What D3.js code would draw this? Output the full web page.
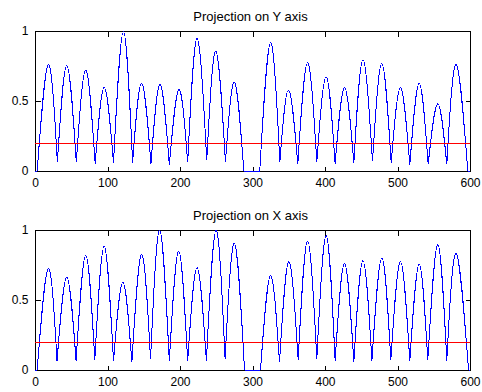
<!DOCTYPE html>
<html>
<head>
<meta charset="utf-8">
<script src="https://cdn.jsdelivr.net/npm/d3@7"></script>
<style>
  body { margin: 0; background: #fff; }
  svg { display: block; }
  text { font-family: "Liberation Sans", Arial, sans-serif; fill: #000; }
</style>
</head>
<body>
<div id="chart"></div>
<script>
// projection on Y axis: turning points (zeros, dips and peaks)
const yProjX = [0, 3, 18.4, 30.9, 43.8, 57, 70, 83, 95.4, 108.3, 122, 134.6, 147, 160, 172.4, 185.3,
  198.6, 210.6, 223.5, 236.9, 249.3, 262.7, 275, 288, 310, 324.8, 337.7, 349.7, 362.5, 375.9, 388.7,
  401.6, 414, 426.9, 439.8, 452.3, 465.5, 478.4, 491.3, 504.1, 517, 529.9, 542.3, 555.6, 568, 580.9, 597, 600];
const yProjV = [0, 0, 0.76, 0.064, 0.754, 0.064, 0.72, 0.052, 0.597, 0.06, 0.995, 0.06, 0.628, 0.052, 0.618, 0.045,
  0.582, 0.062, 0.947, 0.076, 0.857, 0.064, 0.635, 0, 0, 0.916, 0.064, 0.578, 0.052, 0.773, 0.064,
  0.673, 0.052, 0.594, 0.06, 0.795, 0.069, 0.768, 0.057, 0.594, 0.045, 0.625, 0.048, 0.48, 0.048, 0.76, 0, 0];

// projection on X axis
const xProjX = [0, 3, 18.4, 30.4, 43.8, 56.7, 70, 82.5, 95.4, 108.3, 121.2, 133.6, 147, 159.4, 171.9, 185.3,
  198.2, 210.6, 223.5, 236.4, 249.8, 262.2, 275.1, 289, 311, 324.8, 337.2, 350.1, 363, 375.9, 388.7,
  401.6, 414, 426.9, 439.8, 452.3, 464.7, 478.4, 490.8, 504.1, 517, 529.9, 541.8, 555.6, 568, 580.9, 598, 600];
const xProjV = [0, 0, 0.726, 0.064, 0.662, 0.064, 0.819, 0.071, 0.883, 0.064, 0.626, 0.055, 0.826, 0.076, 1.0, 0.064,
  0.85, 0.064, 0.731, 0.064, 0.998, 0.079, 0.905, 0, 0, 0.674, 0.055, 0.774, 0.071, 0.921, 0.079,
  0.96, 0.067, 0.76, 0.06, 0.781, 0.067, 0.8, 0.071, 0.774, 0.064, 0.755, 0.071, 0.895, 0.067, 0.831, 0, 0];

const threshold = 0.2;
const xTicks = [0, 100, 200, 300, 400, 500, 600];
const yTicks = [0, 0.5, 1];
const yTickLabels = ['0', '0.5', '1'];

const panels = [
  { title: 'Projection on Y axis', xs: yProjX, vs: yProjV, top: 31 },
  { title: 'Projection on X axis', xs: xProjX, vs: xProjV, top: 230 }
];

const width = 482, height = 392;
const left = 35, right = 470, plotH = 140;

const svg = d3.select('#chart').append('svg')
  .attr('width', width)
  .attr('height', height);

const x = d3.scaleLinear().domain([0, 600]).range([left, right]);

panels.forEach(p => {
  const y = d3.scaleLinear().domain([0, 1]).range([p.top + plotH, p.top]);
  const g = svg.append('g');

  g.append('rect')
    .attr('x', left + 0.5).attr('y', p.top + 0.5)
    .attr('width', right - left).attr('height', plotH)
    .attr('fill', '#fff').attr('stroke', '#000').attr('stroke-width', 1)
    .attr('shape-rendering', 'crispEdges');

  // axes with inward ticks, mirrored on the opposite sides
  const axes = [
    [d3.axisBottom(x).tickValues(xTicks).tickFormat(d3.format('d')), p.top + plotH + 0.5, 0, true],
    [d3.axisTop(x).tickValues(xTicks), p.top + 0.5, 0, false],
    [d3.axisLeft(y).tickValues(yTicks).tickFormat((d, i) => yTickLabels[i]), 0, left + 0.5, true],
    [d3.axisRight(y).tickValues(yTicks), 0, right + 0.5, false]
  ];
  axes.forEach(([axis, ty, tx, labels]) => {
    const a = g.append('g')
      .attr('transform', 'translate(' + tx + ',' + ty + ')')
      .call(axis.tickSizeInner(-5).tickSizeOuter(0).tickPadding(labels ? 7 : 0));
    a.select('.domain').remove();
    a.selectAll('line').attr('shape-rendering', 'crispEdges');
    a.selectAll('text')
      .style('font-family', '"Liberation Sans", Arial, sans-serif')
      .style('font-size', '12px')
      .style('display', labels ? null : 'none');
  });
  g.selectAll('.tick text').attr('fill', '#000');

  // curve: one arc per peak (dip - peak - dip), flat runs where it sits at zero
  const pts = p.xs.map((d, i) => [d, p.vs[i]]);
  const bump = d3.line().x(d => x(d[0])).y(d => y(d[1])).curve(d3.curveNatural);
  const flat = d3.line().x(d => x(d[0])).y(d => y(d[1]));
  pts.forEach((d, i) => {
    if (i > 0 && i < pts.length - 1 && d[1] > pts[i - 1][1] && d[1] > pts[i + 1][1]) {
      g.append('path').attr('d', bump([pts[i - 1], d, pts[i + 1]]))
        .attr('fill', 'none').attr('stroke', '#0000ff').attr('stroke-width', 1)
        .attr('shape-rendering', 'crispEdges');
    } else if (i < pts.length - 1 && d[1] === 0 && pts[i + 1][1] === 0) {
      g.append('path').attr('d', flat([d, pts[i + 1]]))
        .attr('fill', 'none').attr('stroke', '#0000ff').attr('stroke-width', 1)
        .attr('shape-rendering', 'crispEdges');
    }
  });

  g.append('line')
    .attr('x1', x(0)).attr('x2', x(600))
    .attr('y1', Math.round(y(threshold)) + 0.5).attr('y2', Math.round(y(threshold)) + 0.5)
    .attr('stroke', '#ff0000').attr('stroke-width', 1)
    .attr('shape-rendering', 'crispEdges');

  g.append('text')
    .attr('x', (left + right) / 2 - 2)
    .attr('y', p.top - 10)
    .attr('text-anchor', 'middle')
    .style('font-size', '13px')
    .text(p.title);
});
</script>
</body>
</html>
